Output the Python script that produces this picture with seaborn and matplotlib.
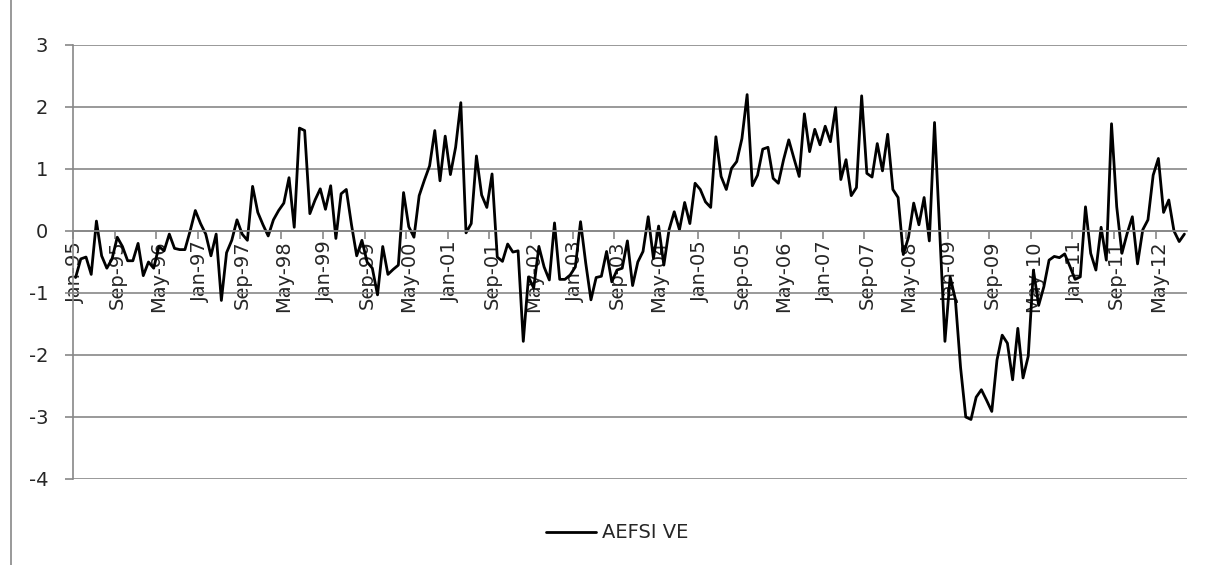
import matplotlib
matplotlib.use('Agg')
import matplotlib.pyplot as plt
import seaborn as sns
import pandas as pd
import numpy as np
from matplotlib.lines import Line2D

sns.set_theme(style='white')
plt.rcParams['font.family'] = ['DejaVu Sans']

series_name = 'AEFSI VE'
start_month = '1995-01'
label_step = 8

values_1995_1999 = [
    -0.75, -0.45, -0.42, -0.70, 0.16, -0.40, -0.60, -0.45, -0.10, -0.25, -0.48, -0.48,
    -0.20, -0.72, -0.50, -0.60, -0.25, -0.32, -0.05, -0.28, -0.30, -0.30, 0.00, 0.33,
    0.12, -0.05, -0.40, -0.05, -1.12, -0.35, -0.15, 0.18, -0.05, -0.15, 0.72, 0.30,
    0.10, -0.08, 0.18, 0.33, 0.45, 0.86, 0.06, 1.66, 1.62, 0.28, 0.50, 0.68,
    0.35, 0.73, -0.12, 0.60, 0.67, 0.10, -0.40, -0.15, -0.50, -0.60, -1.03, -0.25,
]
values_2000_2004 = [
    -0.70, -0.62, -0.55, 0.62, 0.07, -0.10, 0.57, 0.82, 1.05, 1.62, 0.81, 1.53,
    0.91, 1.35, 2.07, -0.03, 0.12, 1.21, 0.58, 0.38, 0.92, -0.42, -0.49, -0.21,
    -0.34, -0.32, -1.78, -0.74, -0.92, -0.25, -0.58, -0.79, 0.13, -0.78, -0.78, -0.71,
    -0.58, 0.15, -0.52, -1.11, -0.75, -0.73, -0.33, -0.82, -0.63, -0.60, -0.16, -0.88,
    -0.50, -0.33, 0.23, -0.44, 0.08, -0.55, 0.02, 0.31, 0.02, 0.46, 0.12, 0.77,
]
values_2005_2009 = [
    0.67, 0.47, 0.38, 1.52, 0.88, 0.67, 1.01, 1.12, 1.49, 2.20, 0.73, 0.90,
    1.32, 1.35, 0.85, 0.77, 1.15, 1.47, 1.17, 0.88, 1.89, 1.28, 1.64, 1.39,
    1.69, 1.44, 1.99, 0.83, 1.15, 0.57, 0.70, 2.18, 0.93, 0.87, 1.41, 0.97,
    1.56, 0.67, 0.54, -0.38, -0.10, 0.45, 0.10, 0.54, -0.16, 1.75, 0.00, -1.78,
    -0.74, -1.10, -2.20, -3.00, -3.04, -2.68, -2.56, -2.73, -2.91, -2.08, -1.68, -1.81,
]
values_2010_2012 = [
    -2.40, -1.57, -2.37, -2.02, -0.63, -1.20, -0.90, -0.47, -0.41, -0.43, -0.37, -0.57,
    -0.78, -0.74, 0.39, -0.36, -0.63, 0.06, -0.47, 1.73, 0.39, -0.36, -0.04, 0.23,
    -0.53, 0.02, 0.18, 0.90, 1.17, 0.30, 0.50, 0.00, -0.17, -0.05,
]
values = values_1995_1999 + values_2000_2004 + values_2005_2009 + values_2010_2012

y_ticks = [-4, -3, -2, -1, 0, 1, 2, 3]

months = pd.date_range(start_month, periods=len(values), freq='MS')
month_labels = [d.strftime('%b-%y') for d in months]
df = pd.DataFrame({'idx': np.arange(len(values)), 'value': values,
                   'series': series_name})

W, H = 1206, 565
fig = plt.figure(figsize=(W / 100, H / 100), dpi=100)
ax = fig.add_axes([73 / W, 1 - 479 / H, (1187 - 73) / W, (479 - 45) / H])

gc = '#878787'
sns.lineplot(data=df, x='idx', y='value', hue='series', palette=['black'],
             linewidth=2.0, ax=ax, legend=True)

n = len(values)
ax.set_xlim(-0.5, n - 0.5)
ax.set_ylim(min(y_ticks), max(y_ticks))
ax.set_yticks(y_ticks)
ax.set_yticklabels([str(t) for t in y_ticks])
ax.yaxis.grid(True, color=gc, linewidth=1.2)
ax.xaxis.grid(False)
ax.set_axisbelow(True)
for s in ['top', 'right']:
    ax.spines[s].set_visible(False)
ax.spines['left'].set_color(gc)
ax.spines['left'].set_linewidth(1.2)
ax.spines['bottom'].set_position(('data', 0))
ax.spines['bottom'].set_color(gc)
ax.spines['bottom'].set_linewidth(1.2)

label_pos = np.arange(0, n, label_step)
ax.set_xticks(label_pos - 0.5)
ax.set_xticklabels([])
ax.set_xticks(label_pos, minor=True)
ax.set_xticklabels([month_labels[i] for i in label_pos], minor=True,
                   rotation=90, fontsize=14)
ax.tick_params(axis='x', which='major', direction='out', length=6, width=1.2,
               color=gc, bottom=True)
ax.tick_params(axis='x', which='minor', length=0, pad=7, bottom=True)
ax.tick_params(axis='y', direction='out', length=6, width=1.2, color=gc,
               left=True, pad=12, labelsize=14)
ax.set_xlabel('')
ax.set_ylabel('')

sns.move_legend(ax, 'center', bbox_to_anchor=(617 / W, 1 - 533 / H),
                bbox_transform=fig.transFigure, frameon=False, title=None,
                fontsize=14, handlelength=2.6, handletextpad=0.3)

fig.add_artist(Line2D([10.5 / W, 10.5 / W], [0, 1], color=gc, linewidth=1.2,
                      transform=fig.transFigure))

fig.savefig('out.png', dpi=100, facecolor='white')
